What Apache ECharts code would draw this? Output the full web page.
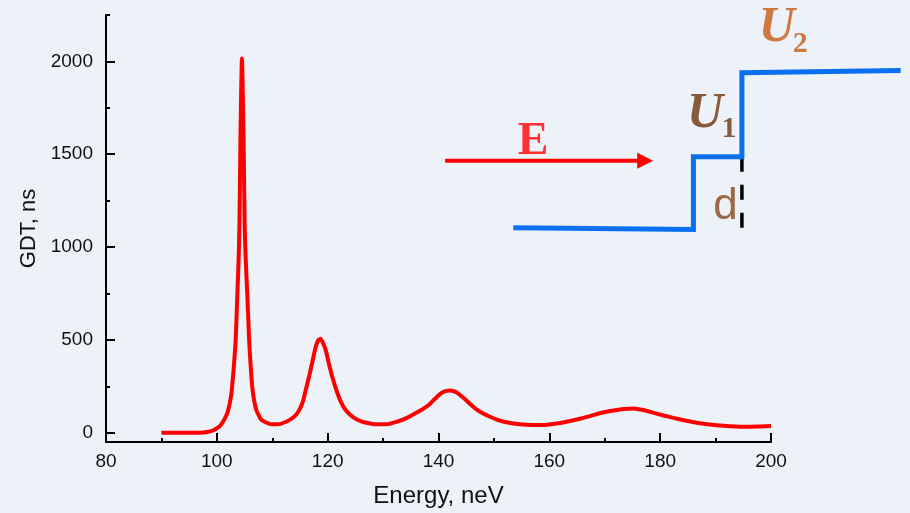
<!DOCTYPE html>
<html>
<head>
<meta charset="utf-8">
<script src="https://cdn.jsdelivr.net/npm/echarts@6/dist/echarts.min.js"></script>
<style>
html,body{margin:0;padding:0;background:#edf2f9;}
#chart{width:910px;height:513px;}
</style>
</head>
<body>
<div id="chart"></div>
<script>
// ---- main curve (Energy, neV -> GDT, ns) ----
const energy = [90, 96.9, 98.5, 99.3, 100.2, 100.8, 101.5, 102.0, 102.6, 103.0, 103.4, 103.7, 103.94, 104.08, 104.25, 104.53, 104.84, 105.02, 105.2, 105.5, 105.8, 106.05, 106.45, 107.1, 108.0, 109.5, 111.0, 112.8, 113.6, 114.35, 115.0, 115.55, 116.0, 116.7, 117.3, 117.8, 118.3, 118.7, 119.2, 119.6, 120.0, 120.4, 120.8, 121.3, 121.8, 122.3, 123.1, 124.0, 125.2, 126.4, 128.8, 130.5, 132.4, 134.3, 136.0, 137.3, 138.45, 139.6, 140.55, 141.4, 142.2, 143.2, 144.5, 145.7, 146.9, 148.0, 149.0, 150.5, 152.5, 154.7, 156.8, 158.9, 161.0, 163.1, 165.5, 167.95, 169.8, 171.6, 173.4, 175.2, 177.0, 178.8, 180.6, 182.4, 184.5, 186.6, 189.0, 191.4, 193.6, 195.7, 198.0, 200];
const gdt = [0, 0, 5, 12, 27, 45, 80, 116, 205, 331, 500, 742, 940, 1120, 1560, 2016, 1560, 1120, 940, 742, 520, 384, 230, 125, 71, 48, 45, 63, 78, 98, 130, 170, 225, 310, 390, 458, 498, 506, 480, 450, 400, 350, 305, 255, 210, 172, 128, 98, 72, 58, 45, 45, 58, 80, 107, 130, 155, 190, 214, 225, 228, 218, 188, 155, 125, 105, 90, 71, 55, 45, 41, 41, 48, 59, 75, 95, 110, 120, 128, 131, 122, 107, 93, 80, 66, 54, 44, 37, 33, 32, 34, 36];

// ---- axis ticks ----
const yMajorTicks = [0, 500, 1000, 1500, 2000];
const yMinorTicks = [250, 750, 1250, 1750, 2250];

// ---- inset schematic (in the chart's data units, drawn on a wider twin grid) ----
const stepX = [153.5, 186.0, 186.0, 194.75, 194.75, 223.4];
const stepY = [1110, 1100, 1490, 1490, 1940, 1952];
const dashX = [194.75, 194.75];
const dashY = [1490, 1045];
const arrowX = [141.2, 177.3];
const arrowY = [1468, 1468];
const noteText = ['E', 'U', '1', 'U', '2', 'd'];
const noteX = [157.05, 188.1, 192.4, 201.05, 205.3, 191.8];
const noteY = [1569, 1717, 1640, 2178, 2092, 1222];

const noteStyles = [
  {fontFamily: 'Liberation Serif', fontWeight: 'bold', fontSize: 46, color: '#ff0000'},
  {fontFamily: 'Liberation Serif', fontWeight: 'bold', fontStyle: 'italic', fontSize: 50, color: '#6e330a'},
  {fontFamily: 'Liberation Serif', fontWeight: 'bold', fontSize: 30, color: '#6e330a'},
  {fontFamily: 'Liberation Serif', fontWeight: 'bold', fontStyle: 'italic', fontSize: 50, color: '#c55a11'},
  {fontFamily: 'Liberation Serif', fontWeight: 'bold', fontSize: 30, color: '#c55a11'},
  {fontFamily: 'Liberation Sans', fontSize: 44, color: '#8a4516'}
];

const gridL = 106, gridR = 139, gridT = 15, gridB = 69;
const xMin = 80, xMax = 200;
const plotW = 910 - gridL - gridR;
const insetXMax = xMin + (910 - gridL) * (xMax - xMin) / plotW;

const chart = echarts.init(document.getElementById('chart'), null, {renderer: 'canvas'});
const axisFont = {fontFamily: 'Liberation Sans', fontSize: 19, color: '#111'};

chart.setOption({
  backgroundColor: '#edf2f9',
  animation: false,
  grid: [
    {left: gridL, right: gridR, top: gridT, bottom: gridB},
    {left: gridL, right: 0, top: gridT, bottom: gridB}
  ],
  xAxis: [{
    type: 'value', min: xMin, max: xMax, interval: 20,
    name: 'Energy, neV', nameLocation: 'middle', nameGap: 42,
    nameTextStyle: {fontFamily: 'Liberation Sans', fontSize: 24, color: '#111'},
    axisLine: {onZero: false, lineStyle: {color: '#000', width: 2}},
    axisTick: {inside: true, length: 9, lineStyle: {color: '#000', width: 2}},
    minorTick: {show: true, splitNumber: 2, length: 4, lineStyle: {color: '#000', width: 2}},
    axisLabel: Object.assign({margin: 10}, axisFont),
    splitLine: {show: false}, minorSplitLine: {show: false}
  }, {
    type: 'value', gridIndex: 1, min: xMin, max: insetXMax, show: false
  }],
  yAxis: [{
    type: 'value', min: -50, max: 2250, position: 'left',
    name: 'GDT, ns', nameLocation: 'middle', nameGap: 64,
    nameTextStyle: {fontFamily: 'Liberation Sans', fontSize: 22, color: '#111'},
    axisLine: {show: true, onZero: false, lineStyle: {color: '#000', width: 2}},
    axisTick: {show: true, inside: true, length: 9, customValues: yMajorTicks, lineStyle: {color: '#000', width: 2}},
    axisLabel: Object.assign({margin: 13, customValues: yMajorTicks, formatter: v => String(v)}, axisFont),
    splitLine: {show: false}
  }, {
    type: 'value', min: -50, max: 2250, position: 'left', offset: 0,
    axisLine: {show: false, onZero: false},
    axisTick: {show: true, inside: true, length: 4, customValues: yMinorTicks, lineStyle: {color: '#000', width: 2}},
    axisLabel: {show: false, customValues: yMinorTicks},
    splitLine: {show: false}
  }, {
    type: 'value', gridIndex: 1, min: -50, max: 2250, show: false
  }],
  series: [{
    type: 'line', name: 'GDT',
    data: energy.map((x, i) => [x, gdt[i]]),
    symbol: 'none', smooth: 0.2,
    lineStyle: {color: '#ff0000', width: 4},
    z: 5
  }, {
    type: 'line', name: 'barrier', xAxisIndex: 1, yAxisIndex: 2,
    data: stepX.map((x, i) => [x, stepY[i]]),
    symbol: 'none', clip: false,
    lineStyle: {color: '#0b6ff2', width: 5, join: 'miter'},
    z: 4
  }, {
    type: 'line', name: 'd', xAxisIndex: 1, yAxisIndex: 2,
    data: dashX.map((x, i) => [x, dashY[i]]),
    symbol: 'none', clip: false,
    lineStyle: {color: '#000', width: 3.5, type: [15, 13]},
    z: 3
  }, {
    type: 'line', name: 'E arrow', xAxisIndex: 1, yAxisIndex: 2,
    data: arrowX.map((x, i) => i === arrowX.length - 1
      ? {value: [x, arrowY[i]], symbol: 'triangle', symbolSize: [16, 16], symbolRotate: -90}
      : {value: [x, arrowY[i]], symbol: 'none'}),
    showSymbol: true, clip: false,
    itemStyle: {color: '#ff0000'},
    lineStyle: {color: '#ff0000', width: 4},
    z: 4
  }, {
    type: 'scatter', name: 'notes', xAxisIndex: 1, yAxisIndex: 2, clip: false,
    symbolSize: 1,
    itemStyle: {color: 'rgba(0,0,0,0)'},
    data: noteText.map((t, i) => ({
      value: [noteX[i], noteY[i]],
      label: Object.assign({show: true, formatter: t, position: 'inside', align: 'center', verticalAlign: 'middle'}, noteStyles[i])
    })),
    z: 6
  }]
});
</script>
</body>
</html>
